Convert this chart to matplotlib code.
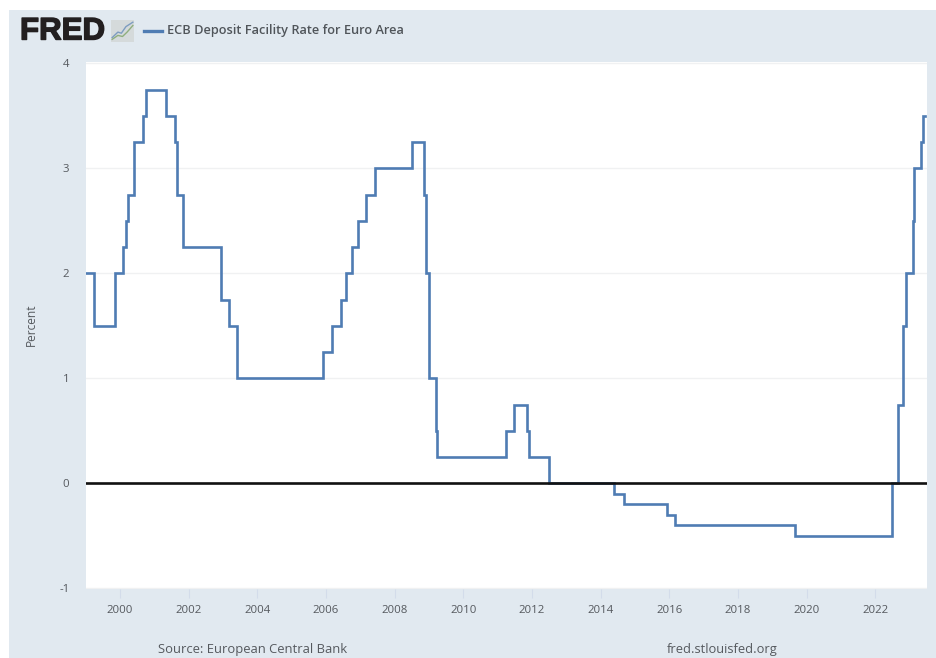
import matplotlib
matplotlib.use("Agg")
import matplotlib.pyplot as plt
import matplotlib.dates as mdates
import matplotlib.patheffects as pe
from matplotlib.patches import Rectangle
import pandas as pd

dates = ["1999-01-01","1999-03-29","1999-11-07","2000-01-30","2000-03-03","2000-04-01","2000-05-30",
         "2000-08-29","2000-10-01","2001-05-05","2001-08-08","2001-09-03","2001-11-03","2002-12-06",
         "2003-03-07","2003-06-03","2005-12-02","2006-03-03","2006-06-07","2006-08-01","2006-10-01",
         "2006-12-06","2007-03-03","2007-06-03","2008-07-01","2008-11-10","2008-12-02","2009-01-01",
         "2009-03-14","2009-03-29","2011-03-29","2011-06-28","2011-11-10","2011-12-02","2012-07-05",
         "2014-05-27","2014-09-02","2015-12-06","2016-03-03","2019-09-02","2022-06-25","2022-08-29",
         "2022-10-20","2022-11-25","2023-02-03","2023-02-21","2023-05-05","2023-05-23","2023-06-18"]
rates = [2.0,1.5,2.0,2.25,2.5,2.75,3.25,3.5,3.75,3.5,3.25,2.75,2.25,1.75,1.5,1.0,1.25,1.5,1.75,2.0,2.25,
         2.5,2.75,3.0,3.25,2.75,2.0,1.0,0.5,0.25,0.5,0.75,0.5,0.25,0.0,-0.1,-0.2,-0.3,-0.4,-0.5,0.0,
         0.75,1.5,2.0,2.5,3.0,3.25,3.5,3.5]
y_ticks = [-1, 0, 1, 2, 3, 4]
x_tick_years = list(range(2000, 2023, 2))
series_name = "ECB Deposit Facility Rate for Euro Area"
source_text = "Source: European Central Bank"
site_text = "fred.stlouisfed.org"

W, H = 936, 658
PANEL = "#e1e9f0"
LINE = "#4f7cb3"
TXT = "#55595e"
FONT = "Open Sans"

fig = plt.figure(figsize=(W / 100, H / 100), dpi=100, facecolor="white")
fig.add_artist(Rectangle((9 / W, 0), (W - 9) / W, (H - 10) / H, transform=fig.transFigure,
                         facecolor=PANEL, edgecolor="none", zorder=-10))

L, R, T, B = 86, 927, 62, 589
ax = fig.add_axes([L / W, 1 - B / H, (R - L) / W, (B - T) / H], facecolor="white")
x = pd.to_datetime(dates)
ax.step(x, rates, where="post", color=LINE, lw=1.9, solid_joinstyle="miter", zorder=3)
ax.axhline(0, color="#111111", lw=1.9, zorder=4)

ax.set_xlim(pd.Timestamp("1999-01-05"), pd.Timestamp("2023-07-05"))
ax.set_ylim(-1.006, 4.013)
ax.set_yticks(y_ticks)
ax.set_yticklabels([str(v) for v in y_ticks])
ax.set_xticks(pd.to_datetime([f"{yr}-01-01" for yr in x_tick_years]))
ax.xaxis.set_major_formatter(mdates.DateFormatter("%Y"))
ax.grid(axis="y", color="#f0f1f2", lw=1.0, zorder=0)
ax.grid(axis="x", visible=False)
ax.set_axisbelow(True)
for s in ax.spines.values():
    s.set_visible(False)
ax.tick_params(axis="x", length=6.5, width=0.8, color="#d3dcea", pad=5,
               labelsize=8.2, labelcolor=TXT)
ax.tick_params(axis="y", length=0, pad=12, labelsize=8.2, labelcolor=TXT)
for lab in ax.get_xticklabels() + ax.get_yticklabels():
    lab.set_fontfamily(FONT)

def px(xp, yp):
    return xp / W, 1 - yp / H

fig.text(*px(31, 325), "Percent", rotation=90, ha="center", va="center",
         fontsize=8.6, color=TXT, family=FONT)
fig.text(*px(158, 650), source_text, ha="left", va="center", fontsize=9.4, color=TXT, family=FONT)
fig.text(*px(667, 650), site_text, ha="left", va="center", fontsize=9.3, color=TXT, family=FONT)

# header: logo wordmark, icon and legend
fig.text(*px(20, 31.5), "FRED", ha="left", va="center", fontsize=22.5, fontweight="bold",
         color="#231f20", family="Liberation Sans",
         path_effects=[pe.withStroke(linewidth=1.0, foreground="#231f20")])
icon = fig.add_axes([111 / W, 1 - 42 / H, 23 / W, 22 / H])
icon.set_axis_off()
icon.add_patch(Rectangle((0, 0), 1, 1, transform=icon.transAxes, facecolor="#d5dadb", edgecolor="none"))
icon.plot([0.05, 0.3, 0.45, 0.65, 0.95], [0.2, 0.45, 0.4, 0.7, 0.9], color="#7d9cc0", lw=1)
icon.plot([0.05, 0.3, 0.5, 0.7, 0.95], [0.12, 0.3, 0.25, 0.45, 0.75], color="#8fae7e", lw=1)
icon.set_xlim(0, 1)
icon.set_ylim(0, 1)

fig.add_artist(plt.Line2D([144 / W, 162 / W], [1 - 30.5 / H] * 2, color=LINE, lw=2.4,
                          transform=fig.transFigure))
fig.text(*px(167, 30.5), series_name, ha="left", va="center", fontsize=9.15, fontweight="semibold",
         color="#50555a", family=FONT)

fig.savefig("out.png", dpi=100)
